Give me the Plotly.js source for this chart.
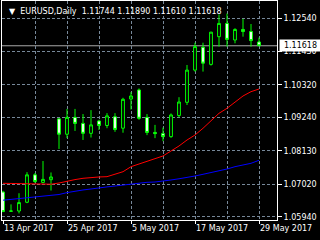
<!DOCTYPE html>
<html>
<head>
<meta charset="utf-8">
<script src="https://cdn.plot.ly/plotly-3.0.1.min.js"></script>
<style>
html,body{margin:0;padding:0;background:#000;}
#chart{width:320px;height:240px;}
</style>
</head>
<body>
<div id="chart"></div>
<script>
const symbol = 'EURUSD,Daily';
const dates = ['13 Apr 2017','14 Apr 2017','17 Apr 2017','18 Apr 2017','19 Apr 2017','20 Apr 2017','21 Apr 2017',
  '24 Apr 2017','25 Apr 2017','26 Apr 2017','27 Apr 2017','28 Apr 2017','1 May 2017','2 May 2017','3 May 2017',
  '4 May 2017','5 May 2017','8 May 2017','9 May 2017','10 May 2017','11 May 2017','12 May 2017','15 May 2017',
  '16 May 2017','17 May 2017','18 May 2017','19 May 2017','22 May 2017','23 May 2017','24 May 2017','25 May 2017',
  '26 May 2017','29 May 2017'];
const openP  = [1.0676,1.0612,1.0613,1.0642,1.0733,1.0708,1.0717,1.0919,1.0868,1.0924,1.0904,1.0871,1.0912,1.0897,1.0926,1.0888,1.0985,
  1.1015,1.0924,1.0874,1.0870,1.0860,1.0930,1.0974,1.1081,1.1157,1.1100,1.1192,1.1236,1.1181,1.1216,1.1209,1.11744];
const highP  = [1.0680,1.0635,1.0672,1.0742,1.0739,1.0779,1.0741,1.0921,1.0952,1.0952,1.0935,1.0948,1.0916,1.0938,1.0938,1.0989,1.1008,
  1.1020,1.0935,1.0899,1.0890,1.0937,1.0991,1.1098,1.1172,1.1172,1.1208,1.1266,1.1269,1.1220,1.1251,1.1234,1.11890];
const lowP   = [1.0610,1.0610,1.0605,1.0639,1.0706,1.0705,1.0681,1.0819,1.0855,1.0879,1.0849,1.0857,1.0882,1.0888,1.0876,1.0873,1.0950,
  1.0916,1.0865,1.0855,1.0845,1.0856,1.0924,1.0965,1.1076,1.1076,1.1096,1.1159,1.1159,1.1170,1.1192,1.1159,1.11610];
const closeP = [1.0611,1.0613,1.0641,1.0733,1.0711,1.0718,1.0726,1.0868,1.0924,1.0904,1.0871,1.0899,1.0897,1.0929,1.0884,1.0984,1.0995,
  1.0921,1.0874,1.0870,1.0860,1.0932,1.0975,1.1081,1.1159,1.1104,1.1207,1.1236,1.1183,1.1216,1.1209,1.1179,1.11618];
const maRed  = [1.07050,1.07043,1.07037,1.07037,1.07033,1.07027,1.07020,1.07060,1.07126,1.07173,1.07216,1.07243,1.07260,1.07270,1.07342,
  1.07435,1.07602,1.07691,1.07768,1.07874,1.07957,1.08123,1.08290,1.08488,1.08654,1.08877,1.09130,1.09375,1.09541,1.09760,1.09950,1.10093,1.10182];
const maBlue = [1.06489,1.06515,1.06539,1.06569,1.06595,1.06612,1.06628,1.06678,1.06741,1.06794,1.06828,1.06861,1.06904,1.06930,1.06960,
  1.06993,1.07033,1.07060,1.07083,1.07093,1.07116,1.07160,1.07200,1.07236,1.07292,1.07349,1.07402,1.07469,1.07525,1.07602,1.07658,1.07714,1.07814];
const xTickLabels = ['13 Apr 2017','25 Apr 2017','5 May 2017','17 May 2017','29 May 2017'];
const yTicks = [1.05940,1.07020,1.08130,1.09240,1.10320,1.11430,1.12540];

const idx = dates.map((d,i)=>i);
const xTickVals = xTickLabels.map(l=>dates.indexOf(l));
const gridVals = idx.filter(i=>i>0 && i%4===0);
const n = dates.length-1;
const FONT = 'DejaVu Sans';
const GREEN = '#00FF00';
const GRID = '#778899';

const traces = [
  {type:'candlestick', x:idx, open:openP, high:highP, low:lowP, close:closeP,
   increasing:{line:{color:GREEN,width:1}, fillcolor:'#000000'},
   decreasing:{line:{color:GREEN,width:1}, fillcolor:'#FFFFFF'},
   whiskerwidth:0, hoverinfo:'none', showlegend:false},
  {type:'scatter', mode:'lines', x:idx, y:maRed, line:{color:'#FF0000',width:1}, showlegend:false, hoverinfo:'none'},
  {type:'scatter', mode:'lines', x:idx, y:maBlue, line:{color:'#0000FF',width:1}, showlegend:false, hoverinfo:'none'},
  {type:'scatter', mode:'lines', x:[idx[0]], y:[closeP[n]], xaxis:'x2', showlegend:false, hoverinfo:'none', line:{width:0}}
];

const header = '\u25BC\u00A0\u00A0' + symbol + '\u00A0\u00A0' +
  [openP[n],highP[n],lowP[n],closeP[n]].map(v=>v.toFixed(5)).join(' ');

const xr = [-0.125, 34.25];
const layout = {
  width:320, height:240,
  paper_bgcolor:'#000000', plot_bgcolor:'#000000',
  margin:{l:2, r:43, t:1, b:20, pad:0},
  font:{family:FONT, size:8, color:'#FFFFFF'},
  boxgap:0.5,
  showlegend:false,
  xaxis:{range:xr, type:'linear', rangeslider:{visible:false},
    tickmode:'array', tickvals:xTickVals, ticktext:xTickLabels,
    ticklabelposition:'outside right',
    showgrid:false, zeroline:false,
    showline:true, mirror:true, linecolor:'#FFFFFF', linewidth:1,
    ticks:'outside', ticklen:3, tickcolor:'#FFFFFF', tickwidth:1,
    tickfont:{family:FONT,size:8,color:'#FFFFFF'}},
  xaxis2:{range:xr, overlaying:'x', type:'linear', tickmode:'array', tickvals:gridVals,
    showticklabels:false, ticks:'', showgrid:true, gridcolor:GRID, griddash:'3px,2px', gridwidth:1,
    zeroline:false, showline:false},
  yaxis:{range:[1.05831,1.13105], side:'right',
    tickmode:'array', tickvals:yTicks, ticktext:yTicks.map(v=>v.toFixed(5)),
    showgrid:true, gridcolor:GRID, griddash:'3px,2px', gridwidth:1, zeroline:false,
    showline:true, mirror:true, linecolor:'#FFFFFF', linewidth:1,
    ticks:'outside', ticklen:4, tickcolor:'#FFFFFF', tickwidth:1,
    tickfont:{family:FONT,size:8,color:'#FFFFFF'}},
  shapes:[{type:'line', xref:'paper', x0:0, x1:1, yref:'y', y0:closeP[n], y1:closeP[n],
    line:{color:'#A9A9A9', width:1}, layer:'below'}],
  annotations:[
    {xref:'paper', yref:'paper', x:0, y:1, xanchor:'left', yanchor:'top', xshift:5, yshift:-4,
     text:header, showarrow:false, font:{family:FONT,size:8,color:'#FFFFFF'}},
    {xref:'paper', yref:'y', x:1, y:closeP[n], xanchor:'left', yanchor:'middle', xshift:2,
     text:closeP[n].toFixed(5), showarrow:false, bgcolor:'#FFFFFF', width:41, height:11, borderpad:0,
     font:{family:FONT,size:8,color:'#000000'}}
  ]
};

Plotly.newPlot('chart', traces, layout, {staticPlot:true, displayModeBar:false});
</script>
</body>
</html>
